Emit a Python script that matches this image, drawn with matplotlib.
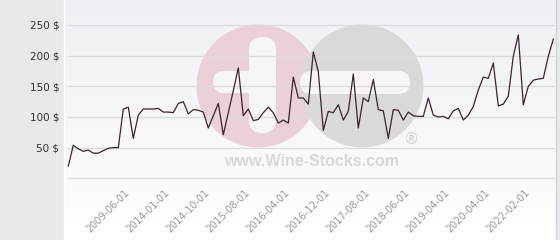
import matplotlib
matplotlib.use("Agg")
import matplotlib.pyplot as plt
import numpy as np
from matplotlib.patches import Circle, FancyBboxPatch, Rectangle

# ---- data -------------------------------------------------------------
prices = [20, 54, 48, 44, 46, 41, 41, 45, 49, 50,
          50, 113, 116, 65, 103, 113, 113, 113, 114, 108,
          108, 107, 122, 125, 105, 112, 111, 108, 82, 102,
          122, 71, 107, 143, 180, 102, 113, 94, 96, 107,
          116, 107, 90, 95, 90, 165, 131, 131, 121, 206,
          174, 78, 109, 107, 120, 95, 109, 170, 82, 131,
          125, 161, 112, 110, 65, 112, 111, 95, 108, 102,
          101, 101, 131, 103, 100, 101, 97, 110, 114, 95,
          103, 117, 144, 165, 163, 188, 118, 121, 134, 199,
          234, 120, 150, 160, 162, 163, 199, 227]
tick_labels = ["2009-06-01", "2014-01-01", "2014-10-01", "2015-08-01",
               "2016-04-01", "2016-12-01", "2017-08-01", "2018-06-01",
               "2019-04-01", "2020-04-01", "2022-02-01"]
y_values = [0, 50, 100, 150, 200, 250]
y_labels = ["", "50 $", "100 $", "150 $", "200 $", "250 $"]
watermark_text = "www.Wine-Stocks.com"

W, H = 560, 240
fig = plt.figure(figsize=(W / 100, H / 100), dpi=100)
fig.patch.set_facecolor("#e6eaed")

def fx(px):
    return px / W

def fy(py):
    return 1 - py / H

# ---- panel background gradient -------------------------------------
bg = fig.add_axes([fx(64), 0, fx(556) - fx(64), 1], zorder=0)
grad = np.linspace(0, 1, 256).reshape(-1, 1)
top = np.array([0.937, 0.941, 0.961])
bot = np.array([1.0, 1.0, 1.0])
img = top + (bot - top) * grad[..., None]
bg.imshow(img, aspect="auto", extent=[0, 1, 0, 1], origin="upper")
bg.set_axis_off()

# ---- watermark ------------------------------------------------------
wm = fig.add_axes([0, 0, 1, 1], zorder=1)
wm.set_xlim(0, W)
wm.set_ylim(H, 0)
wm.set_axis_off()
wm.patch.set_alpha(0)
pink = "#ebd0d9"
grey = "#d9d9d9"
wm.add_patch(Circle((258, 86), 61.5, color=pink, lw=0))
wm.add_patch(Circle((362, 86), 61.5, color=grey, lw=0))
panel_white = "#f6f6f9"
# plus cut-out in pink circle
wm.add_patch(FancyBboxPatch((249, 37), 27, 96, boxstyle="round,pad=0,rounding_size=13",
                            color=panel_white, lw=0))
wm.add_patch(FancyBboxPatch((213, 71), 50, 22, boxstyle="round,pad=0,rounding_size=11",
                            color=panel_white, lw=0))
# bar cut-out in grey circle
wm.add_patch(FancyBboxPatch((300, 71), 110, 23, boxstyle="round,pad=0,rounding_size=11.5",
                            color=panel_white, lw=0))
wm.text(312, 161, watermark_text, ha="center", va="center", fontsize=11.5,
        fontweight="bold", color="#d8d8d8", family="Liberation Sans")
wm.text(412, 139, "\u00ae", ha="center", va="center", fontsize=11,
        color="#d3d3d3", family="DejaVu Sans")
# right border of panel
wm.plot([555.5, 555.5], [0, H], color="#cfd3d6", lw=1)
wm.plot([63.5, 63.5], [0, H], color="#ffffff", lw=1)

# ---- main axes ------------------------------------------------------
x0, x1 = 68.3, 553.3
y0, y250 = 178.3, 25.0
ax = fig.add_axes([fx(x0), fy(y0), fx(x1) - fx(x0), fy(y250) - fy(y0)], zorder=2)
ax.patch.set_alpha(0)
n = len(prices)
idx = np.arange(n)
ax.set_xlim(0, n - 1)
ax.set_ylim(0, 250)
for s in ax.spines.values():
    s.set_visible(False)
ax.set_yticks(y_values)
ax.set_yticklabels(y_labels)
ax.tick_params(axis="y", length=0, pad=6.5, labelsize=7.5, labelcolor="#333333")
for yv in y_values:
    ax.axhline(yv, color="#dcdcde", lw=1, zorder=1, xmin=-0.001, xmax=1.002, clip_on=False)

ax.plot(idx, prices, color="#3b2330", lw=0.9, zorder=3, clip_on=False)

tick_pos = np.arange(12, n, 8)[:len(tick_labels)]
ax.set_xticks(tick_pos)
ax.set_xticklabels(tick_labels, rotation=45, ha="right", va="center",
                   rotation_mode="anchor")
ax.tick_params(axis="x", length=0, pad=9, labelsize=7, labelcolor="#999999")

fig.savefig("out.png", dpi=100)
